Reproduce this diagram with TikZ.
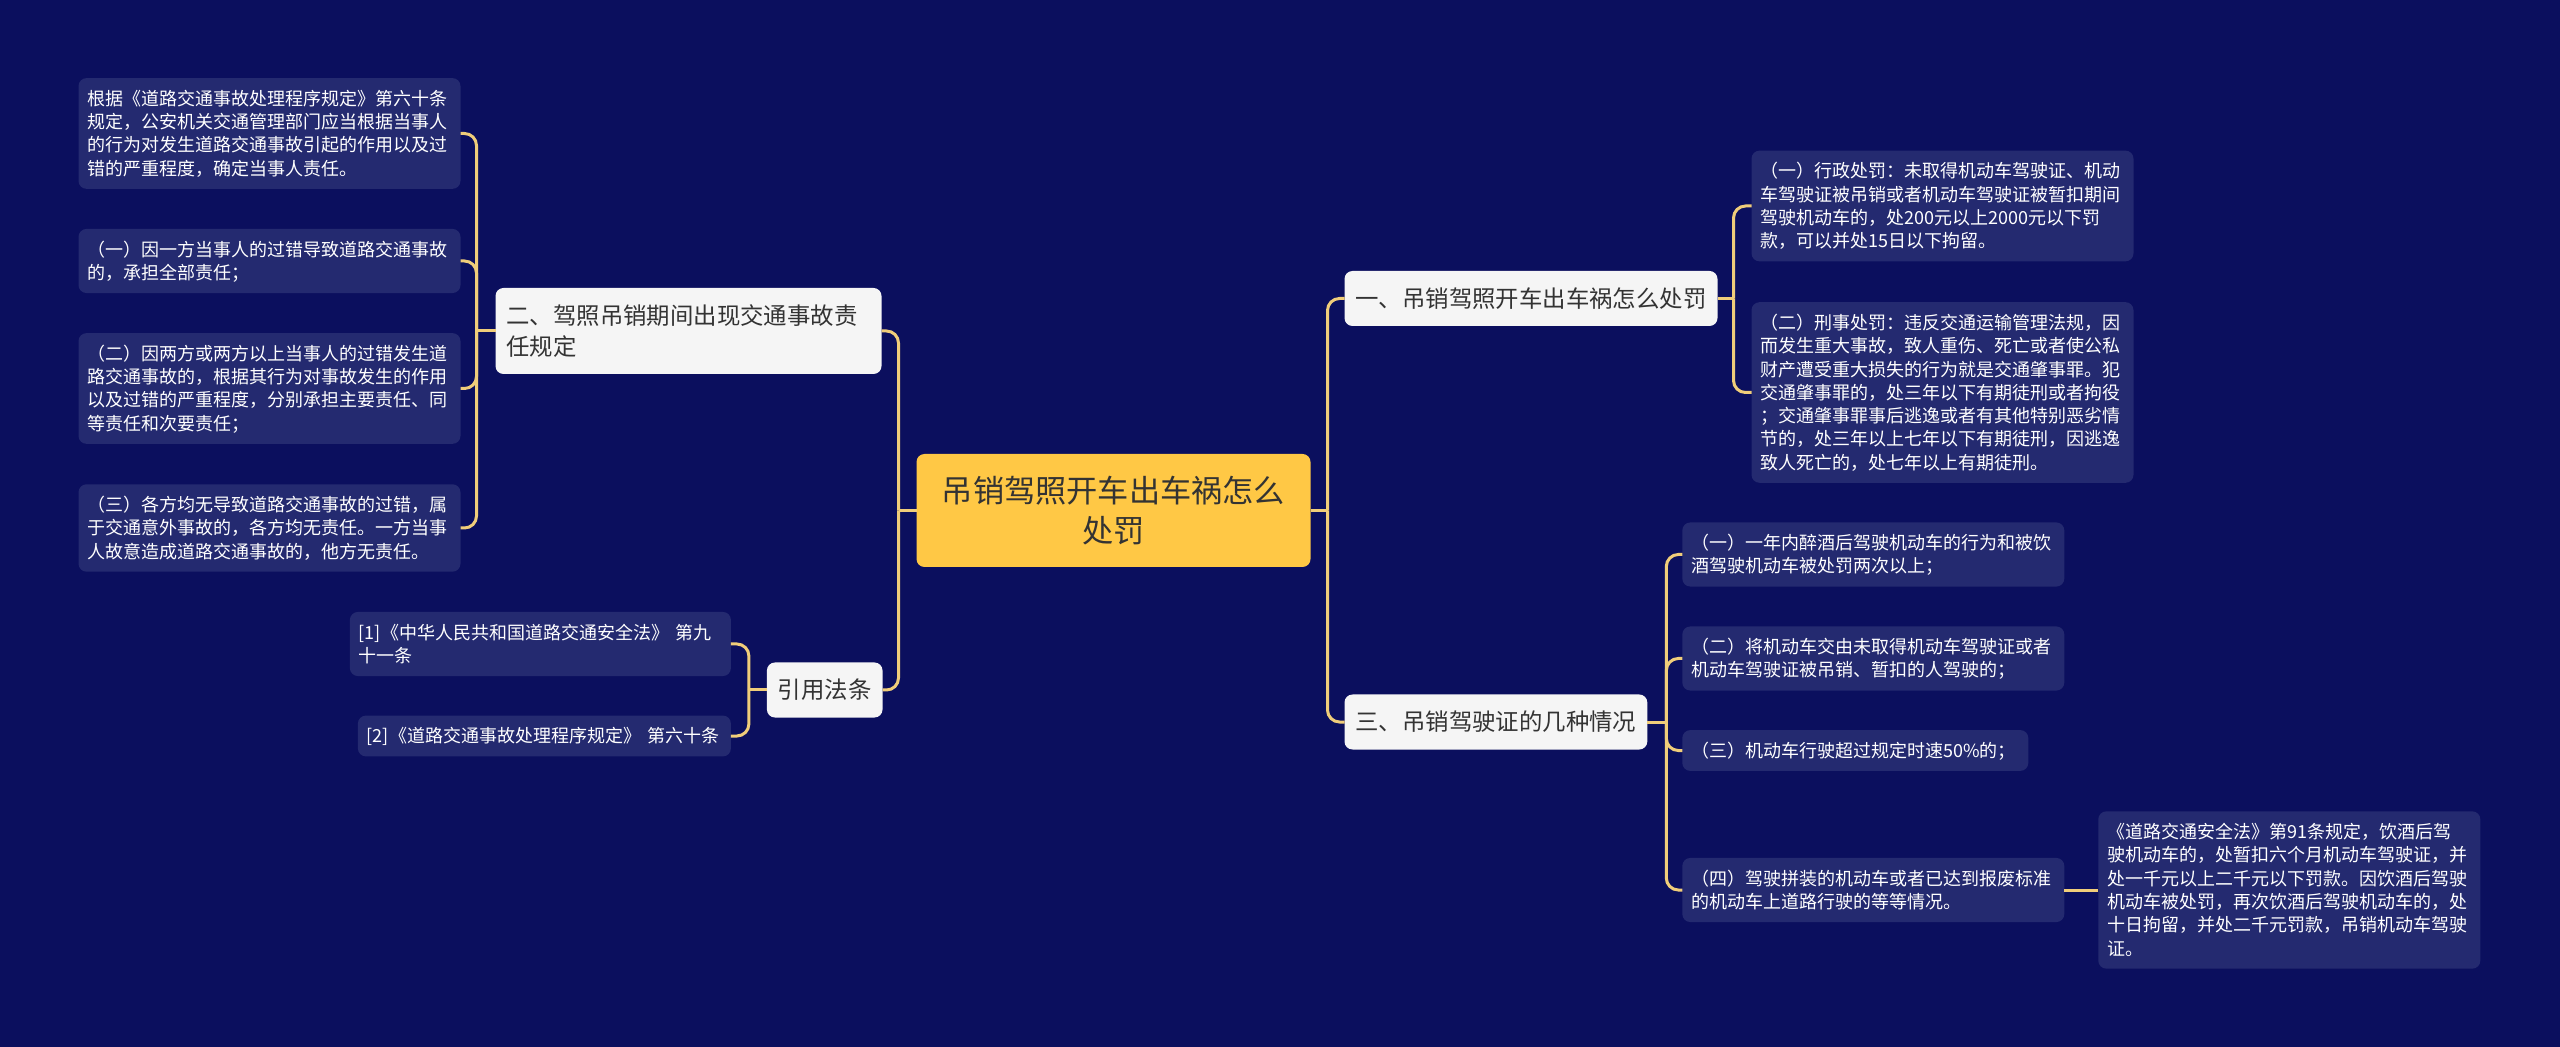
\documentclass[tikz,border=0pt]{standalone}
\usepackage{fontspec}
\setmainfont{Noto Sans CJK SC}
\usetikzlibrary{positioning}
\definecolor{bgnavy}{HTML}{0B0F5E}
\definecolor{leafnavy}{HTML}{242A70}
\definecolor{rootyellow}{HTML}{FFC845}
\definecolor{topicwhite}{HTML}{F5F5F5}
\definecolor{linkgold}{HTML}{F0CD7A}
\definecolor{inkdark}{HTML}{333333}
\newcommand{\leafstrut}{\rule[-2.4pt]{0pt}{11.65pt}}
\newcommand{\topicstrut}{\rule[-3.3pt]{0pt}{15.5pt}}
\newcommand{\rootstrut}{\rule[-4.1pt]{0pt}{20pt}}
\tikzset{
    base/.style = {rounded corners=4pt, align=left, outer sep=0pt},
    % Nodes
    root/.style  = {base, fill=rootyellow, text=inkdark, align=center, text width=181pt,
        inner xsep=8pt, inner ysep=8.25pt, font=\fontsize{15.6pt}{20pt}\selectfont,
        execute at begin node=\rootstrut, execute at end node=\rootstrut},
    topic/.style = {base, fill=topicwhite, text=inkdark, inner xsep=5.5pt, inner ysep=6pt,
        font=\fontsize{11.7pt}{15.5pt}\selectfont,
        execute at begin node=\topicstrut, execute at end node=\topicstrut},
    leaf/.style  = {base, fill=leafnavy, text=white, text width=182pt, inner xsep=4.5pt,
        inner ysep=4.375pt, font=\fontsize{9pt}{11.65pt}\selectfont,
        execute at begin node=\leafstrut, execute at end node=\leafstrut},
    % Connectors
    link/.style  = {draw=linkgold, line width=1.5pt, rounded corners=6pt}
}

\begin{document}
\begin{tikzpicture}[x=0.5pt, y=-0.5pt]
    \fill [bgnavy] (0,0) rectangle (2560,1047);
    \useasboundingbox (0,0) rectangle (2560,1047);

    \node (root) [root] at (1113.5,510.5) {吊销驾照开车出车祸怎么\\处罚};

    % right side
    \node (punish) [topic, right=17pt of root, yshift=106pt] {一、吊销驾照开车出车祸怎么处罚};
    \node (admin) [leaf, right=17pt of punish, yshift=46.25pt] {（一）行政处罚：未取得机动车驾驶证、机动\\车驾驶证被吊销或者机动车驾驶证被暂扣期间\\驾驶机动车的，处200元以上2000元以下罚\\款，可以并处15日以下拘留。};
    \node (crime) [leaf, right=17pt of punish, yshift=-47pt] {（二）刑事处罚：违反交通运输管理法规，因\\而发生重大事故，致人重伤、死亡或者使公私\\财产遭受重大损失的行为就是交通肇事罪。犯\\交通肇事罪的，处三年以下有期徒刑或者拘役\\；交通肇事罪事后逃逸或者有其他特别恶劣情\\节的，处三年以上七年以下有期徒刑，因逃逸\\致人死亡的，处七年以上有期徒刑。};

    \node (cases) [topic, right=17pt of root, yshift=-105.75pt] {三、吊销驾驶证的几种情况};
    \node (caseA) [leaf, right=17.5pt of cases, yshift=83.75pt] {（一）一年内醉酒后驾驶机动车的行为和被饮\\酒驾驶机动车被处罚两次以上；};
    \node (caseB) [leaf, right=17.5pt of cases, yshift=31.75pt] {（二）将机动车交由未取得机动车驾驶证或者\\机动车驾驶证被吊销、暂扣的人驾驶的；};
    \node (caseC) [leaf, text width=164pt, right=17.5pt of cases, yshift=-14.25pt] {（三）机动车行驶超过规定时速50\%的；};
    \node (caseD) [leaf, right=17.5pt of cases, yshift=-84pt] {（四）驾驶拼装的机动车或者已达到报废标准\\的机动车上道路行驶的等等情况。};
    \node (drink) [leaf, right=17pt of caseD] {《道路交通安全法》第91条规定，饮酒后驾\\驶机动车的，处暂扣六个月机动车驾驶证，并\\处一千元以上二千元以下罚款。因饮酒后驾驶\\机动车被处罚，再次饮酒后驾驶机动车的，处\\十日拘留，并处二千元罚款，吊销机动车驾驶\\证。};

    % left side
    \node (duty) [topic, text width=182pt, left=17.5pt of root, yshift=89.75pt] {二、驾照吊销期间出现交通事故责\\任规定};
    \node (dutyA) [leaf, left=17.5pt of duty, yshift=98.75pt] {根据《道路交通事故处理程序规定》第六十条\\规定，公安机关交通管理部门应当根据当事人\\的行为对发生道路交通事故引起的作用以及过\\错的严重程度，确定当事人责任。};
    \node (dutyB) [leaf, left=17.5pt of duty, yshift=35pt] {（一）因一方当事人的过错导致道路交通事故\\的，承担全部责任；};
    \node (dutyC) [leaf, left=17.5pt of duty, yshift=-28.75pt] {（二）因两方或两方以上当事人的过错发生道\\路交通事故的，根据其行为对事故发生的作用\\以及过错的严重程度，分别承担主要责任、同\\等责任和次要责任；};
    \node (dutyD) [leaf, left=17.5pt of duty, yshift=-98.5pt] {（三）各方均无导致道路交通事故的过错，属\\于交通意外事故的，各方均无责任。一方当事\\人故意造成道路交通事故的，他方无责任。};

    \node (cite) [topic, left=17pt of root, yshift=-89.75pt] {引用法条};
    \node (citeA) [leaf, text width=181.5pt, left=18pt of cite, yshift=23pt] {[1]《中华人民共和国道路交通安全法》~第九\\十一条};
    \node (citeB) [leaf, text width=177.5pt, left=18pt of cite, yshift=-23pt] {[2]《道路交通事故处理程序规定》~第六十条};

    % connectors
    \draw [link] (root.east) -- ++(8.5pt,0) coordinate (rootR);
    \draw [link] (root.west) -- ++(-9pt,0) coordinate (rootL);
    \draw [link] (punish.east) -- ++(8pt,0) coordinate (punishR);
    \draw [link] (cases.east) -- ++(9.5pt,0) coordinate (casesR);
    \draw [link] (duty.west) -- ++(-9.5pt,0) coordinate (dutyL);
    \draw [link] (cite.west) -- ++(-9pt,0) coordinate (citeL);
    \foreach \kid in {punish, cases} \draw [link] (rootR) |- (\kid.west);
    \foreach \kid in {duty, cite} \draw [link] (rootL) |- (\kid.east);
    \foreach \kid in {admin, crime} \draw [link] (punishR) |- (\kid.west);
    \foreach \kid in {caseA, caseB, caseC, caseD} \draw [link] (casesR) |- (\kid.west);
    \foreach \kid in {dutyA, dutyB, dutyC, dutyD} \draw [link] (dutyL) |- (\kid.east);
    \foreach \kid in {citeA, citeB} \draw [link] (citeL) |- (\kid.east);
    \draw [link] (caseD.east) -- (drink.west);
\end{tikzpicture}
\end{document}
